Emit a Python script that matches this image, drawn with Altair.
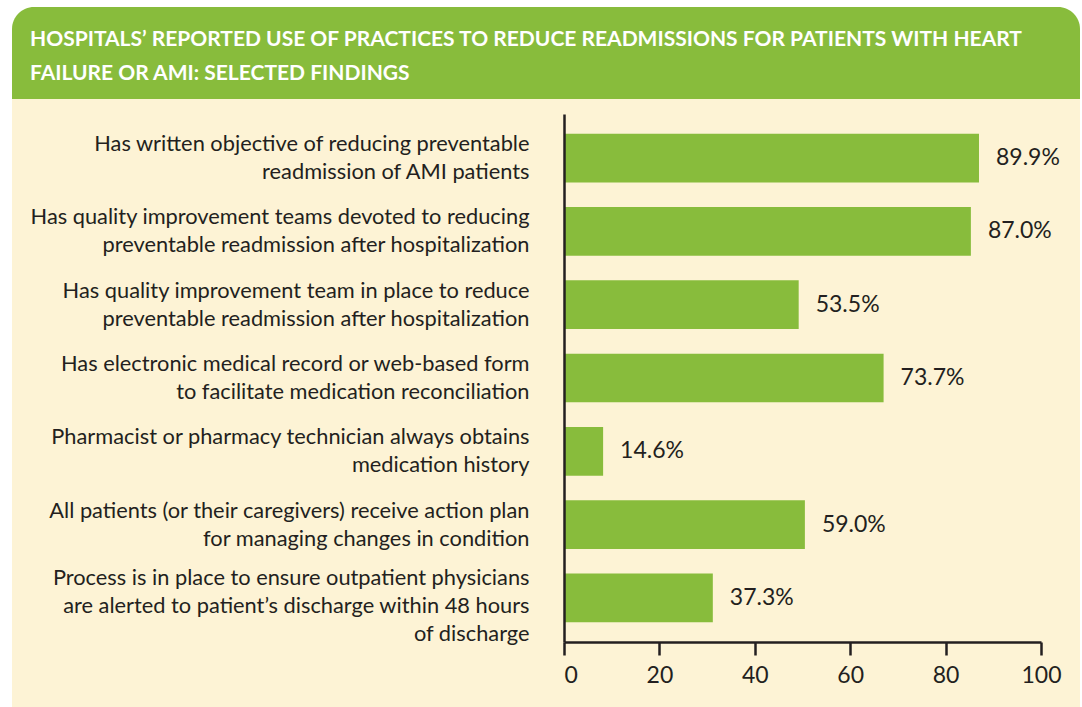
import altair as alt
import pandas as pd

categories = [
    "Has written objective of reducing preventable|readmission of AMI patients",
    "Has quality improvement teams devoted to reducing|preventable readmission after hospitalization",
    "Has quality improvement team in place to reduce|preventable readmission after hospitalization",
    "Has electronic medical record or web-based form|to facilitate medication reconciliation",
    "Pharmacist or pharmacy technician always obtains|medication history",
    "All patients (or their caregivers) receive action plan|for managing changes in condition",
    "Process is in place to ensure outpatient physicians|are alerted to patient\u2019s discharge within 48 hours|of discharge",
]
# bar lengths as drawn in the picture
bar_values = [87.0, 85.3, 49.2, 67.0, 8.2, 50.5, 31.2]
# printed value labels
value_labels = ["89.9%", "87.0%", "53.5%", "73.7%", "14.6%", "59.0%", "37.3%"]
x_ticks = [0, 20, 40, 60, 80, 100]

title_lines = [
    "HOSPITALS\u2019 REPORTED USE OF PRACTICES TO REDUCE READMISSIONS FOR PATIENTS WITH HEART",
    "FAILURE OR AMI: SELECTED FINDINGS",
]

GREEN = "#88BC3C"
CREAM = "#FDF3D5"
INK = "#231F20"
FONT = "Lato"

df = pd.DataFrame({"category": categories, "value": bar_values, "label": value_labels})

W, H = 477, 528
PL, PT = 564, 114

one = alt.Data(values=[{}])

cream = alt.Chart(one).mark_rect(fill=CREAM).encode(
    x=alt.value(12 - PL), x2=alt.value(1080 - PL),
    y=alt.value(60 - PT), y2=alt.value(707 - PT),
)
header = alt.Chart(one).mark_rect(
    fill=GREEN, cornerRadiusTopLeft=22, cornerRadiusTopRight=22
).encode(
    x=alt.value(12 - PL), x2=alt.value(1080 - PL),
    y=alt.value(7 - PT), y2=alt.value(99 - PT),
)

y_enc = alt.Y(
    "category:N", sort=categories, title=None,
    scale=alt.Scale(paddingInner=0.335, paddingOuter=0.27),
    axis=alt.Axis(
        labelExpr="split(datum.value, '|')",
        labelFont=FONT, labelFontSize=21.8, labelColor=INK,
        labelLineHeight=28, labelLimit=0, labelPadding=35,
        labelOffset=alt.condition(
            "indexof(datum.value, 'Process') == 0", alt.value(-20), alt.value(-14)
        ),
        ticks=False, domainColor=INK, domainWidth=2.5, labelAlign="right",
        zindex=1,
    ),
)
x_enc = alt.X(
    "value:Q", title=None,
    scale=alt.Scale(domain=[0, 100], nice=False),
    axis=alt.Axis(
        values=x_ticks, grid=False, labelFont=FONT, labelFontSize=23,
        labelColor=INK, tickColor=INK, tickWidth=2.5, tickSize=13,
        domainColor=INK, domainWidth=2.5, labelPadding=9, zindex=1,
        labelFlush=False,
        labelAlign=alt.condition("datum.value == 0", alt.value("left"), alt.value("center")),
    ),
)

bars = alt.Chart(df).mark_bar(color=GREEN).encode(x=x_enc, y=y_enc)
texts = alt.Chart(df).mark_text(
    align="left", baseline="middle", dx=17, font=FONT, fontSize=23, color=INK
).encode(x="value:Q", y=alt.Y("category:N", sort=categories), text="label:N")

chart = alt.layer(cream, header, bars, texts).properties(
    width=W, height=H,
    padding={"left": PL, "top": PT, "right": 1082 - PL - W, "bottom": 707 - PT - H},
    autosize=alt.AutoSizeParams(type="none"),
    background="white",
    title=alt.TitleParams(
        text=title_lines, anchor="start", frame="group", dx=30 - PL,
        font=FONT, fontSize=21, fontWeight="bold", color="white",
        lineHeight=34, offset=0, dy=98, baseline="bottom", zindex=1,
    ),
).configure_view(stroke=None)

chart.save("out.html", embed_options={"renderer": "svg", "actions": False})
